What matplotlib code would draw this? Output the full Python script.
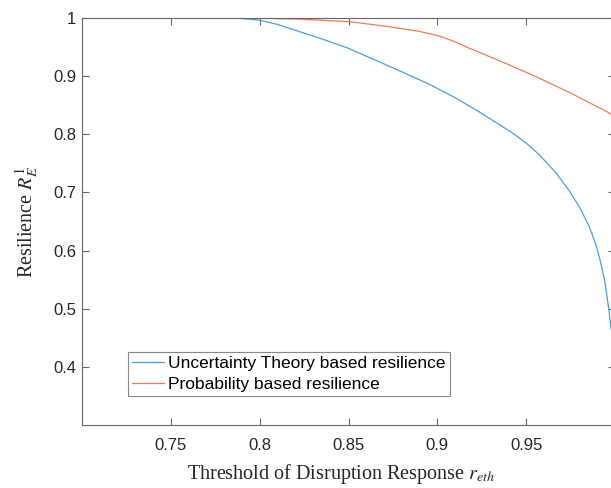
import matplotlib
matplotlib.use("Agg")
import matplotlib.pyplot as plt

plt.rcParams['mathtext.fontset'] = 'stix'

# uncertainty theory based curve
ut_x = [0.786, 0.7994, 0.81, 0.8225, 0.835, 0.8494, 0.8674, 0.88, 0.8955, 0.91, 0.9236,
        0.9423, 0.95, 0.9573, 0.9667, 0.9742, 0.98, 0.9854, 0.9892, 0.992, 0.9945,
        0.9966, 0.9978]
ut_y = [1.0, 0.9966, 0.989, 0.9765, 0.964, 0.9485, 0.9245, 0.9075, 0.886, 0.863, 0.8385,
        0.8022, 0.785, 0.765, 0.734, 0.703, 0.675, 0.642, 0.611, 0.579, 0.543,
        0.497, 0.465]

# probability based curve
pb_x = [0.785, 0.80, 0.8225, 0.8506, 0.873, 0.89, 0.9011, 0.91, 0.918, 0.9236, 0.94,
        0.9556, 0.975, 0.9966, 0.998]
pb_y = [1.0, 0.9995, 0.998, 0.9937, 0.985, 0.977, 0.969, 0.959, 0.948, 0.941, 0.92,
        0.899, 0.871, 0.837, 0.834]

xticks = [0.75, 0.8, 0.85, 0.9, 0.95, 1.0]
xtick_labels = ['0.75', '0.8', '0.85', '0.9', '0.95', '1']
yticks = [0.4, 0.5, 0.6, 0.7, 0.8, 0.9, 1.0]
ytick_labels = ['0.4', '0.5', '0.6', '0.7', '0.8', '0.9', '1']

fig = plt.figure(figsize=(6.11, 4.88), dpi=100)
ax = fig.add_axes([82 / 611, 63 / 488, 533 / 611, 407 / 488])

ax.plot(ut_x, ut_y, color='#4a9fdc', lw=0.9, label='Uncertainty Theory based resilience')
ax.plot(pb_x, pb_y, color='#ea7d5a', lw=0.9, label='Probability based resilience')

ax.set_xlim(0.7, 1.0)
ax.set_ylim(0.3, 1.0)
ax.set_xticks(xticks)
ax.set_xticklabels(xtick_labels)
ax.set_yticks(yticks)
ax.set_yticklabels(ytick_labels)

for lab in ax.get_xticklabels() + ax.get_yticklabels():
    lab.set_family('Liberation Sans')
    lab.set_fontsize(12)
    lab.set_color('#262626')

ax.tick_params(direction='in', length=5, width=0.8, color='#666666',
               top=True, right=True)
ax.tick_params(axis='x', pad=9.5)
ax.tick_params(axis='y', pad=4)
for s in ax.spines.values():
    s.set_color('#666666')
    s.set_linewidth(0.8)

ax.set_xlabel(r'Threshold of Disruption Response $r_{eth}$', family='Liberation Serif',
              fontsize=14.5, color='#262626')
ax.set_ylabel(r'Resilience $R_E^1$', family='Liberation Serif', fontsize=14.5, color='#262626')
ax.xaxis.set_label_coords(0.486, -0.091)
ax.yaxis.set_label_coords(-0.077, 0.5)

leg = ax.legend(loc='lower left', bbox_to_anchor=(0.0863, 0.0713),
                prop={'family': 'Liberation Sans', 'size': 12.5},
                fancybox=False, framealpha=1, edgecolor='#888888',
                handlelength=1.85, handletextpad=0.2, borderpad=0.25,
                labelspacing=0.3, borderaxespad=0)
leg.get_frame().set_linewidth(0.8)

fig.savefig('out.png', dpi=100)
